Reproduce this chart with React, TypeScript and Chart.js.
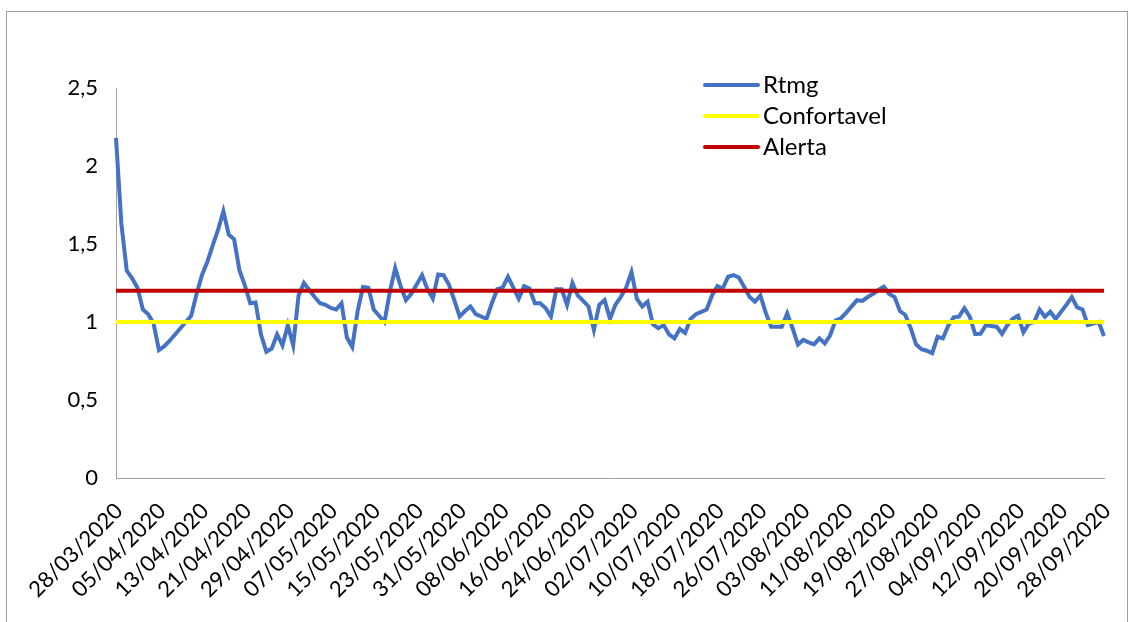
import React, { useEffect, useRef } from "react";
import { Chart, registerables } from "chart.js";

Chart.register(...registerables);

// Daily categories: 28/03/2020 .. 28/09/2020
const FIRST_DAY_UTC = Date.UTC(2020, 2, 28);
const DAY_COUNT = 185;
const LABEL_STEP = 8;

const dates: string[] = [];
for (let i = 0; i < DAY_COUNT; i++) {
  const d = new Date(FIRST_DAY_UTC + i * 86400000);
  const dd = String(d.getUTCDate()).padStart(2, "0");
  const mm = String(d.getUTCMonth() + 1).padStart(2, "0");
  dates.push(`${dd}/${mm}/${d.getUTCFullYear()}`);
}

// Rtmg values, one per day
const rtmg: number[] = [
  2.18, 1.63, 1.33, 1.28, 1.22, 1.08, 1.05, 0.99, 0.82, 0.845,
  0.88, 0.92, 0.96, 1.0, 1.04, 1.18, 1.3, 1.385, 1.49, 1.59,
  1.71, 1.56, 1.53, 1.33, 1.235, 1.12, 1.125, 0.92, 0.81, 0.83,
  0.92, 0.85, 0.98, 0.85, 1.17, 1.25, 1.205, 1.16, 1.12, 1.11,
  1.09, 1.08, 1.12, 0.9, 0.84, 1.07, 1.225, 1.22, 1.08, 1.04,
  1.0, 1.195, 1.345, 1.23, 1.14, 1.18, 1.24, 1.3, 1.21, 1.15,
  1.305, 1.3, 1.24, 1.14, 1.035, 1.07, 1.1, 1.05, 1.035, 1.02,
  1.12, 1.21, 1.22, 1.29, 1.22, 1.15, 1.23, 1.215, 1.12, 1.12,
  1.09, 1.035, 1.21, 1.21, 1.11, 1.25, 1.17, 1.135, 1.1, 0.95,
  1.11, 1.14, 1.02, 1.11, 1.16, 1.22, 1.32, 1.15, 1.1, 1.13,
  0.985, 0.96, 0.98, 0.92, 0.895, 0.955, 0.93, 1.02, 1.05, 1.065,
  1.08, 1.17, 1.23, 1.215, 1.29, 1.3, 1.285, 1.225, 1.16, 1.13,
  1.17, 1.06, 0.97, 0.97, 0.97, 1.055, 0.96, 0.855, 0.885, 0.87,
  0.857, 0.895, 0.863, 0.915, 1.01, 1.024, 1.06, 1.1, 1.14, 1.135,
  1.16, 1.18, 1.205, 1.226, 1.18, 1.16, 1.07, 1.045, 0.96, 0.857,
  0.825, 0.816, 0.8, 0.905, 0.895, 0.976, 1.03, 1.034, 1.088, 1.034,
  0.923, 0.925, 0.98, 0.975, 0.97, 0.923, 0.98, 1.02, 1.04, 0.934,
  0.99, 1.0, 1.08, 1.034, 1.066, 1.02, 1.065, 1.11, 1.16, 1.094,
  1.08, 0.98, 0.99, 1.0, 0.91,
];

// Threshold levels
const CONFORTAVEL_LEVEL = 1.0;
const ALERTA_LEVEL = 1.2;
const confortavel: number[] = dates.map(() => CONFORTAVEL_LEVEL);
const alerta: number[] = dates.map(() => ALERTA_LEVEL);

// Y axis
const Y_MIN = 0;
const Y_MAX = 2.5;
const Y_STEP = 0.5;
const yTickValues = [0, 0.5, 1, 1.5, 2, 2.5];
const yTickLabels = ["0", "0,5", "1", "1,5", "2", "2,5"];

const seriesNames = ["Rtmg", "Confortavel", "Alerta"];
const seriesColors = ["#4472C4", "#FFFF00", "#C00000"];

const FONT_FAMILY = "Lato, 'Open Sans', sans-serif";

// Legend drawn to the right of the plot, inside the chart area
const legendPlugin = {
  id: "insetLegend",
  afterDraw(chart: any, _args: any, opts: any) {
    const ctx = chart.ctx as CanvasRenderingContext2D;
    ctx.save();
    ctx.font = `${opts.fontSize}px ${opts.fontFamily}`;
    ctx.textBaseline = "middle";
    ctx.textAlign = "left";
    chart.data.datasets.forEach((ds: any, i: number) => {
      const y = opts.top + i * opts.rowHeight;
      ctx.strokeStyle = ds.borderColor;
      ctx.lineWidth = ds.borderWidth;
      ctx.lineCap = "round";
      ctx.beginPath();
      ctx.moveTo(opts.left, y);
      ctx.lineTo(opts.left + opts.lineLength, y);
      ctx.stroke();
      ctx.fillStyle = "#000";
      ctx.fillText(ds.label, opts.left + opts.lineLength + opts.gap, y);
    });
    ctx.restore();
  },
};

export default function App() {
  const canvasRef = useRef<HTMLCanvasElement | null>(null);

  useEffect(() => {
    const canvas = canvasRef.current;
    if (!canvas) return;
    const series = [rtmg, confortavel, alerta];
    const chart = new Chart(canvas, {
      type: "line",
      data: {
        labels: dates,
        datasets: series.map((data, i) => ({
          label: seriesNames[i],
          data,
          borderColor: seriesColors[i],
          backgroundColor: seriesColors[i],
          borderWidth: 4,
          pointRadius: 0,
          tension: 0,
          fill: false,
          order: series.length - i,
        })),
      },
      options: {
        responsive: false,
        animation: false,
        devicePixelRatio: 1,
        layout: { padding: { top: 88, right: 30, left: 0, bottom: 0 } },
        plugins: {
          legend: { display: false },
          tooltip: { enabled: false },
          insetLegend: {
            left: 705,
            top: 85,
            rowHeight: 31,
            lineLength: 53,
            gap: 5,
            fontSize: 24,
            fontFamily: FONT_FAMILY,
          },
        } as any,
        scales: {
          x: {
            type: "category",
            offset: false,
            grid: { display: false, drawTicks: false },
            border: { display: true, color: "#A0A0A0", width: 1 },
            afterFit: (scale: any) => {
              scale.height = 144;
              scale.paddingLeft = 0;
              scale.paddingRight = 0;
            },
            ticks: {
              autoSkip: false,
              minRotation: 45,
              maxRotation: 45,
              padding: 20,
              labelOffset: 3,
              color: "#000",
              font: { family: FONT_FAMILY, size: 22 },
              callback: (_v: any, idx: number) =>
                idx % LABEL_STEP === 0 ? dates[idx] : null,
            },
          },
          y: {
            min: Y_MIN,
            max: Y_MAX,
            grid: { display: false, drawTicks: false },
            border: { display: true, color: "#A0A0A0", width: 1 },
            afterFit: (scale: any) => {
              scale.width = 116;
            },
            afterBuildTicks: (scale: any) => {
              scale.ticks = yTickValues.map((value) => ({ value }));
            },
            ticks: {
              stepSize: Y_STEP,
              padding: 18,
              color: "#000",
              font: { family: FONT_FAMILY, size: 22 },
              callback: (v: any) => {
                const k = yTickValues.indexOf(Number(v));
                return k >= 0 ? yTickLabels[k] : "";
              },
            },
          },
        },
      },
      plugins: [legendPlugin],
    });
    return () => chart.destroy();
  }, []);

  return (
    <div
      style={{
        position: "fixed",
        left: 0,
        top: 0,
        width: 1134,
        height: 622,
        background: "#fff",
        overflow: "hidden",
      }}
    >
      <div
        style={{
          position: "absolute",
          left: 6,
          top: 11,
          width: 1122,
          height: 640,
          border: "1px solid #A0A0A0",
          boxSizing: "border-box",
        }}
      />
      <canvas
        ref={canvasRef}
        width={1134}
        height={622}
        style={{ position: "absolute", left: 0, top: 0, width: 1134, height: 622 }}
      />
    </div>
  );
}
